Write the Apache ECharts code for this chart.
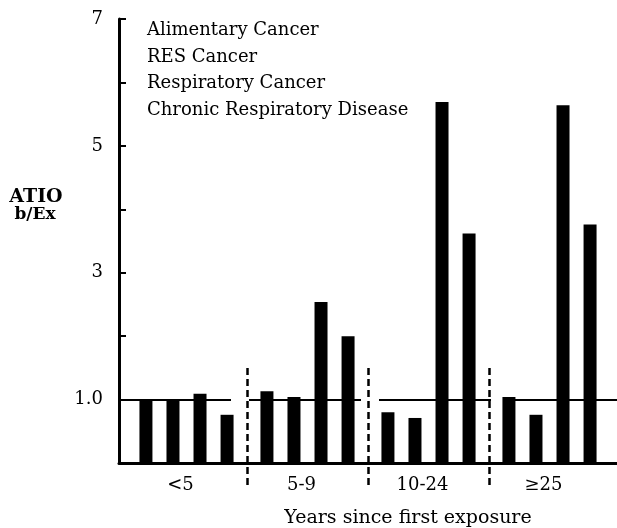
<!DOCTYPE html>
<html><head><meta charset="utf-8">
<script src="https://cdn.jsdelivr.net/npm/echarts@6/dist/echarts.min.js"></script>
<style>html,body{margin:0;padding:0;background:#fff}#chart{width:617px;height:528px}</style>
</head><body><div id="chart"></div>
<script>
// ---- data ----
const categories = ['<5', '5-9', '10-24', '≥25'];
const seriesNames = ['Alimentary Cancer', 'RES Cancer', 'Respiratory Cancer', 'Chronic Respiratory Disease'];
const alimentaryCancer = [1.0, 1.13, 0.80, 1.04];
const resCancer = [1.0, 1.04, 0.71, 0.76];
const respiratoryCancer = [1.09, 2.54, 5.69, 5.64];
const chronicRespiratory = [0.76, 2.00, 3.62, 3.76];
const yTickValues = [1, 3, 5, 7];
const yTickLabels = ['1.0', '3', '5', '7'];
const yMin = 0, yMax = 7, yInterval = 1;
const referenceRatio = 1.0;
const yAxisTitle = ['ATIO', 'b/Ex'];
const xAxisTitle = 'Years since first exposure';

// ---- chart ----
const FONT = '"DejaVu Serif", "Liberation Serif", serif';
const seriesValues = [alimentaryCancer, resCancer, respiratoryCancer, chronicRespiratory];
const chart = echarts.init(document.getElementById('chart'), null, {renderer: 'canvas'});

const barSeries = seriesNames.map((name, i) => ({
  name: name,
  type: 'bar',
  xAxisIndex: 0,
  yAxisIndex: 0,
  barWidth: 13,
  barGap: '108%',
  itemStyle: {color: '#000'},
  emphasis: {disabled: true},
  data: seriesValues[i]
}));

const option = {
  animation: false,
  backgroundColor: '#fff',
  grid: [
    {left: 126, right: 7, top: 19, bottom: 65},
    {left: 119, right: 0, top: 19, bottom: 65},
    {left: 126, right: 7, top: 368, bottom: 40}
  ],
  legend: {
    orient: 'vertical',
    left: 137,
    top: 16,
    itemWidth: 0,
    itemHeight: 0,
    itemGap: 7.5,
    icon: 'rect',
    selectedMode: false,
    data: seriesNames,
    textStyle: {fontFamily: FONT, fontSize: 18, color: '#000', lineHeight: 19}
  },
  xAxis: [
    {
      gridIndex: 0, type: 'category', data: categories,
      axisLine: {show: false}, axisTick: {show: false}, splitLine: {show: false},
      axisLabel: {margin: 13, fontFamily: FONT, fontSize: 18, color: '#000', padding: [0, 12, 0, 0]}
    },
    {
      gridIndex: 1, type: 'value', min: 0, max: 1,
      axisLine: {show: true, onZero: false, lineStyle: {color: '#000', width: 3}},
      axisTick: {show: false}, axisLabel: {show: false}, splitLine: {show: false}
    },
    {
      gridIndex: 2, type: 'category', data: categories,
      axisLine: {show: false}, axisTick: {show: false}, axisLabel: {show: false},
      splitLine: {show: true, showMinLine: false, showMaxLine: false,
        lineStyle: {color: '#000', width: 2.5, type: [7, 4]}}
    }
  ],
  yAxis: [
    {gridIndex: 0, type: 'value', min: yMin, max: yMax, interval: yInterval, show: false},
    {
      gridIndex: 1, type: 'value', min: yMin, max: yMax, interval: yInterval,
      axisLine: {show: true, lineStyle: {color: '#000', width: 3}},
      axisTick: {show: true, inside: true, length: 7, lineStyle: {color: '#000', width: 2}},
      splitLine: {show: false},
      axisLabel: {
        margin: 16, fontFamily: FONT, fontSize: 18, color: '#000',
        formatter: v => { const i = yTickValues.indexOf(v); return i >= 0 ? yTickLabels[i] : ''; }
      }
    },
    {gridIndex: 2, type: 'value', min: 0, max: 1, show: false}
  ],
  graphic: [
    {type: 'text', x: 36, y: 197, silent: true,
      style: {text: yAxisTitle[0], fontFamily: FONT, fontWeight: 'bold', fontSize: 19, fill: '#000', align: 'center', verticalAlign: 'middle'}},
    {type: 'text', x: 35, y: 215, silent: true,
      style: {text: yAxisTitle[1], fontFamily: FONT, fontWeight: 'bold', fontSize: 17, fill: '#000', align: 'center', verticalAlign: 'middle'}},
    {type: 'text', x: 408, y: 518, silent: true,
      style: {text: xAxisTitle, fontFamily: FONT, fontSize: 19, fill: '#000', align: 'center', verticalAlign: 'middle'}}
  ],
  series: barSeries.concat([{
    type: 'line',
    xAxisIndex: 1,
    yAxisIndex: 1,
    data: [],
    silent: true,
    markLine: {
      silent: true,
      symbol: ['none', 'none'],
      label: {show: false},
      lineStyle: {color: '#000', width: 2, type: [112, 18]},
      data: [{yAxis: referenceRatio}]
    }
  }])
};
chart.setOption(option);
</script>
</body></html>
